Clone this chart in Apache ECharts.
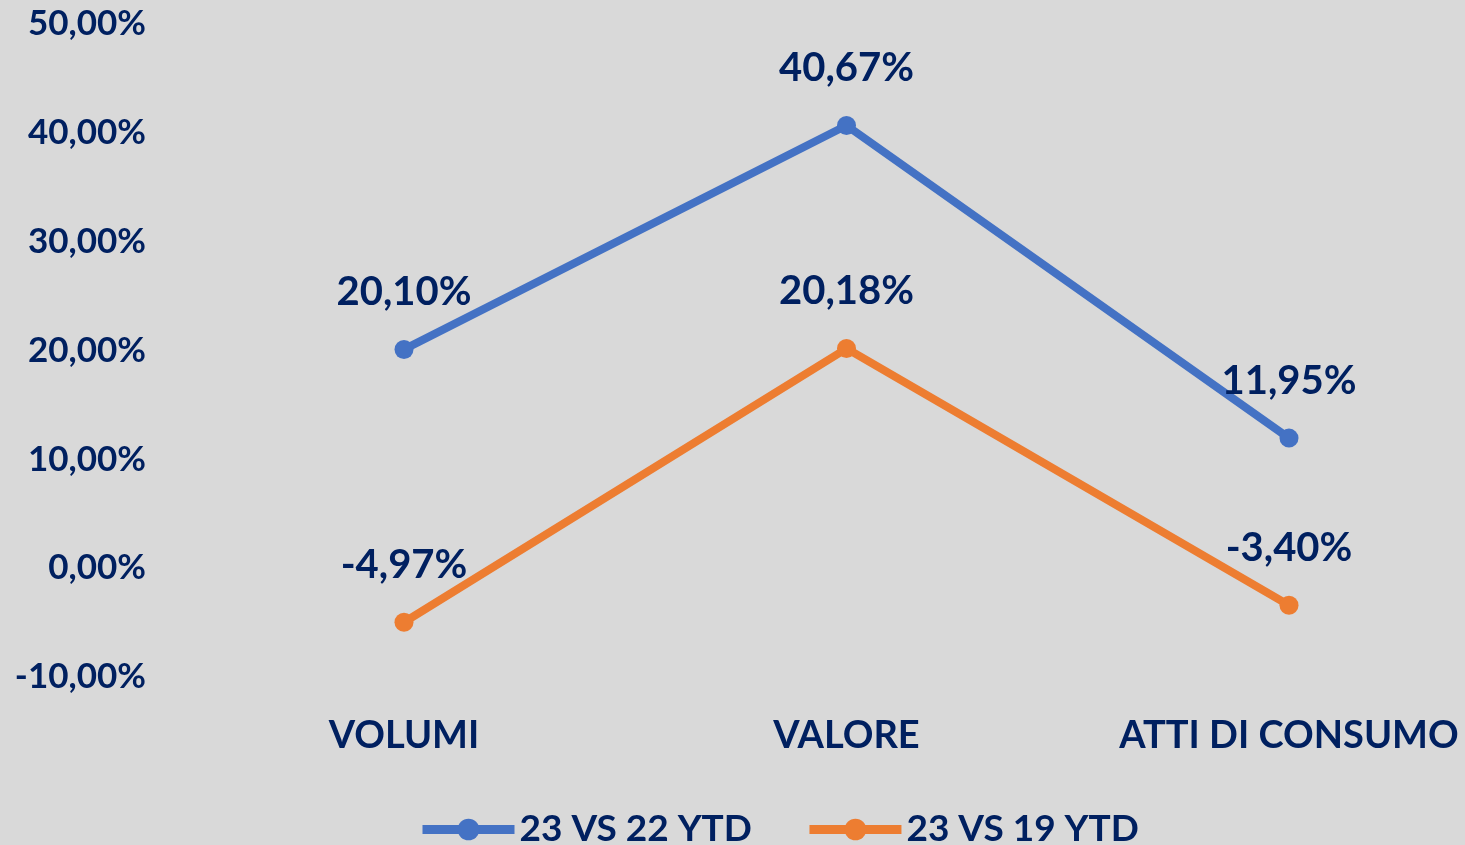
<!DOCTYPE html>
<html>
<head>
<meta charset="utf-8">
<script src="https://cdn.jsdelivr.net/npm/echarts@6/dist/echarts.min.js"></script>
<style>
html,body{margin:0;padding:0;background:#d9d9d9;}
#c{width:1465px;height:845px;}
</style>
</head>
<body>
<div id="c"></div>
<script>
const categories = ['VOLUMI', 'VALORE', 'ATTI DI CONSUMO'];
const seriesNames = ['23 VS 22 YTD', '23 VS 19 YTD'];
const s2322 = [20.10, 40.67, 11.95];
const s2319 = [-4.97, 20.18, -3.40];
const yTicks = [-10, 0, 10, 20, 30, 40, 50];

const navy = '#002060';
const FONT = 'Lato';
const fmt = v => v.toFixed(2).replace('.', ',') + '%';

const chart = echarts.init(document.getElementById('c'), null, {renderer: 'canvas'});
function mkSeries(name, data, color) {
  return {
    name: name, type: 'line', data: data,
    symbol: 'circle', symbolSize: 19,
    lineStyle: {width: 8, color: color},
    itemStyle: {color: color},
    label: {
      show: true, position: 'top', distance: 28,
      color: navy, fontFamily: FONT, fontWeight: 'bold', fontSize: 40,
      formatter: p => fmt(p.value)
    }
  };
}
chart.setOption({
  backgroundColor: '#d9d9d9',
  animation: false,
  grid: {left: 404, right: 1465 - 1289, top: 24, bottom: 845 - 677, containLabel: false},
  legend: {
    data: seriesNames, bottom: -3, left: 418, itemGap: 53, padding: 0,
    itemWidth: 92, itemHeight: 27,
    lineStyle: {width: 9},
    textStyle: {color: navy, fontFamily: FONT, fontWeight: 'bold', fontSize: 37}
  },
  xAxis: {
    type: 'category', data: categories, boundaryGap: false,
    axisLine: {show: false}, axisTick: {show: false},
    axisLabel: {color: navy, fontFamily: FONT, fontWeight: 'bold', fontSize: 38, margin: 40}
  },
  yAxis: {
    type: 'value', min: yTicks[0], max: yTicks[yTicks.length - 1], interval: 10,
    splitLine: {show: false}, axisLine: {show: false}, axisTick: {show: false},
    axisLabel: {color: navy, fontFamily: FONT, fontWeight: 'bold', fontSize: 35, margin: 258,
      formatter: v => fmt(v)}
  },
  series: [mkSeries(seriesNames[0], s2322, '#4472c4'), mkSeries(seriesNames[1], s2319, '#ed7d31')]
});
</script>
</body>
</html>
